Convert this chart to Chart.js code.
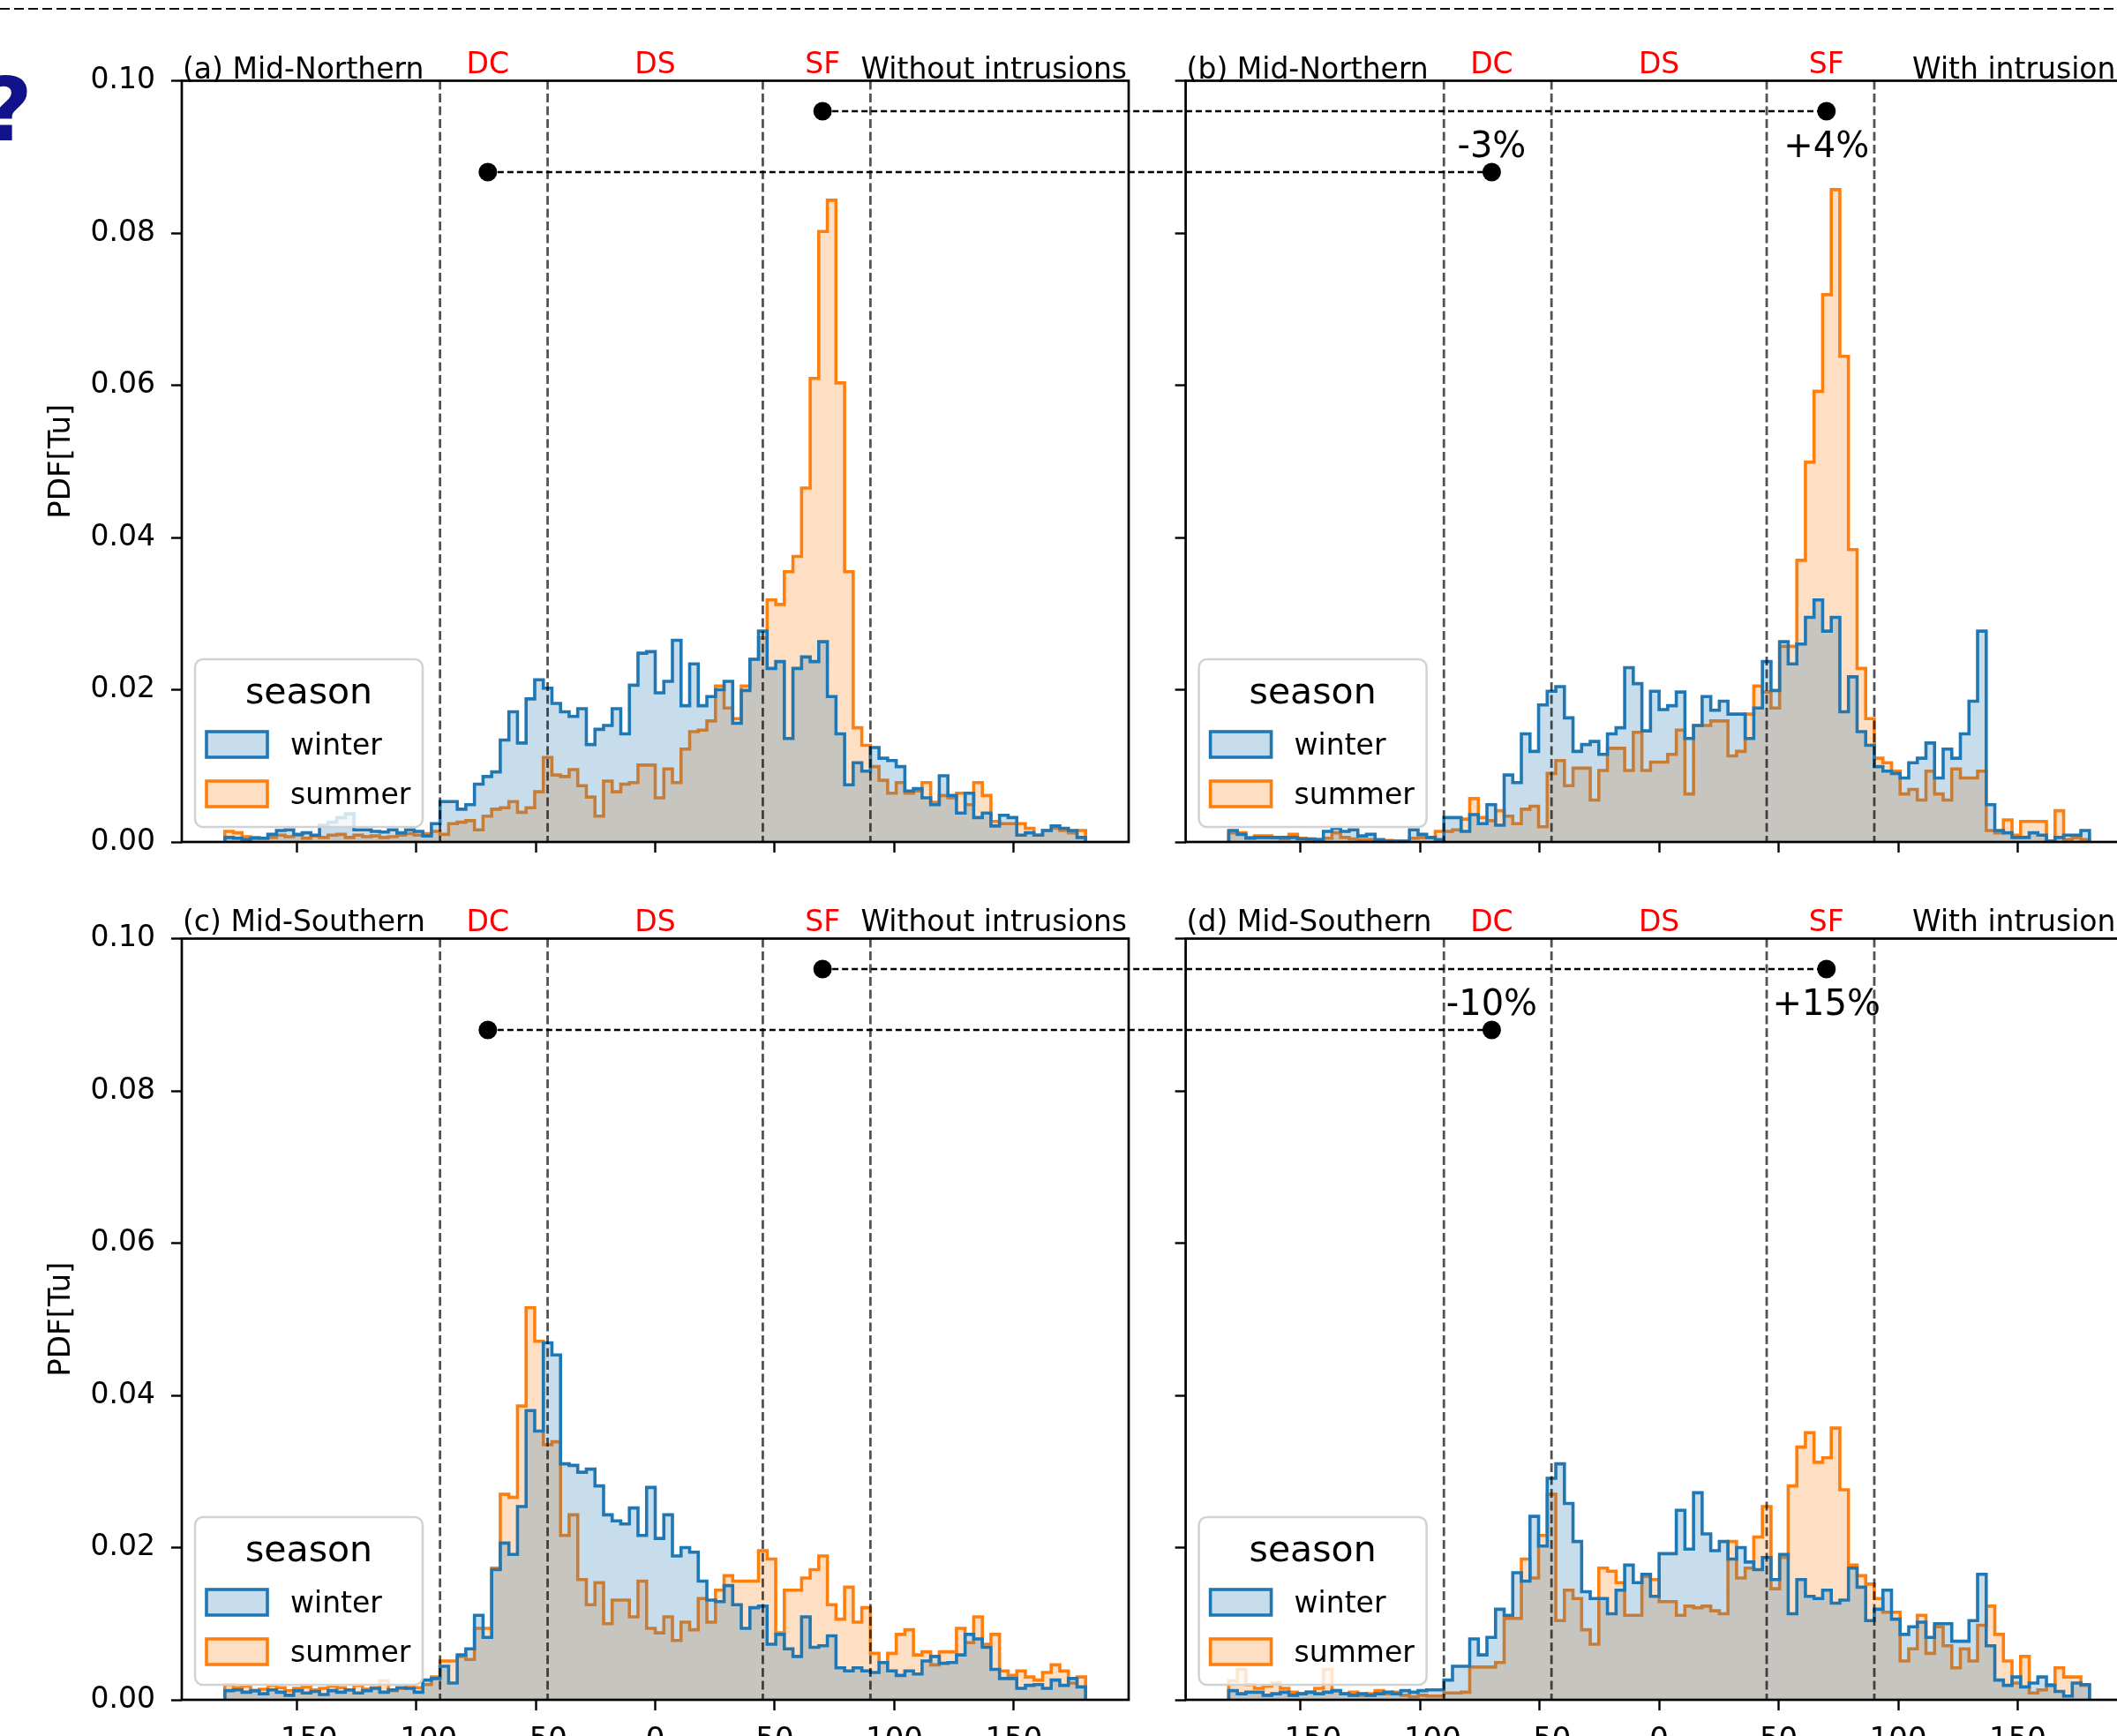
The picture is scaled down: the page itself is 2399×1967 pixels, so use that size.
<!DOCTYPE html>
<html>
<head>
<meta charset="utf-8">
<title>Turner angle PDFs by season</title>
<script src="https://cdn.jsdelivr.net/npm/chart.js@4.4.1/dist/chart.umd.min.js"></script>
<style>
  html, body { margin: 0; padding: 0; width: 2399px; height: 1967px; overflow: hidden; background: #fff; }
  .frame { position: absolute; }
  .frame canvas { display: block; }
  #rule { position: absolute; left: 0; top: 9px; width: 2399px; height: 2px;
          background: repeating-linear-gradient(to right, #111 0 11px, transparent 11px 16px); }
  #mark { position: absolute; left: -21px; top: 75px; font: bold 100px/100px "DejaVu Sans", sans-serif; color: #12128a; }
</style>
</head>
<body>
<div id="rule"></div>
<div id="mark">?</div>
<div class="frame" style="left:0;top:0"><canvas id="pa" width="1311" height="1010" style="width:1311px;height:1010px"></canvas></div>
<div class="frame" style="left:1311px;top:0"><canvas id="pb" width="1120" height="1010" style="width:1120px;height:1010px"></canvas></div>
<div class="frame" style="left:0;top:1010px"><canvas id="pc" width="1311" height="990" style="width:1311px;height:990px"></canvas></div>
<div class="frame" style="left:1311px;top:1010px"><canvas id="pd" width="1120" height="990" style="width:1120px;height:990px"></canvas></div>
<script>
// ---- Binning and axes ------------------------------------------------------
const BIN_LO = -180, BIN_HI = 180;          // Turner angle histogram range (deg), 100 bins
const X_MIN = -198, X_MAX = 198;
const Y_MIN = 0, Y_MAX = 0.10;
const X_TICKS = [-150, -100, -50, 0, 50, 100, 150];
const Y_TICKS = [0, 0.02, 0.04, 0.06, 0.08, 0.10];
const Y_TITLE = 'PDF[Tu]';
const PDF_UNIT = 1e-3;                       // bin values below are listed in units of 1e-3

// Regime boundaries and names
const REGIME_BOUNDS = [-90, -45, 45, 90];
const REGIME_NAMES = ['DC', 'DS', 'SF'];
const REGIME_CENTRES = [-70, 0, 70];

// Legend
const LEGEND_TITLE = 'season';
const SEASONS = ['winter', 'summer'];

// Links between the "without" and "with intrusions" panels
const LINK_X = [70, -70];
const LINK_Y = [0.096, 0.088];
const CHANGE_Y = 0.090;
const CHANGE_NORTH = ['+4%', '-3%'];
const CHANGE_SOUTH = ['+15%', '-10%'];

// ---- PDF per bin (x1e-3) ----------------------------------------------------
const winterA = [0.6,0.5,0.3,0.5,0.5,1.0,1.5,1.6,1.0,1.2,
  0.9,2.2,2.6,3.2,3.7,1.6,1.6,1.4,1.3,1.6,
  1.2,1.6,1.4,0.8,2.4,5.3,5.3,4.3,4.9,7.6,
  8.6,9.2,13.4,17.1,13.0,18.8,21.3,20.2,18.2,17.1,
  16.5,17.5,12.8,14.8,15.3,17.5,14.2,20.6,24.8,25.0,
  19.6,21.1,26.5,17.9,23.4,17.9,19.1,20.0,21.1,15.6,
  19.9,24.0,27.7,22.8,23.7,13.6,22.8,24.3,23.7,26.3,
  19.1,14.2,7.5,10.4,9.3,12.4,11.0,10.7,9.9,6.7,
  7.0,5.8,4.9,8.7,6.1,3.8,6.4,3.2,3.8,2.1,
  3.5,3.2,0.9,1.2,0.9,1.5,2.1,1.8,1.5,0.6];
const summerA = [1.4,1.2,0.7,0.6,0.5,0.6,0.9,0.7,0.9,0.5,
  0.8,0.6,0.9,1.0,0.6,0.9,0.7,0.8,0.6,0.7,
  0.9,1.1,0.9,1.1,1.4,1.0,2.4,2.6,2.8,1.6,
  3.4,4.3,4.5,5.3,3.9,4.5,6.6,11.1,8.8,8.6,
  9.5,7.4,5.9,3.4,8.0,6.6,7.6,7.8,10.1,10.1,
  5.8,9.6,7.8,12.2,14.5,14.7,15.9,20.5,17.6,16.2,
  20.5,24.0,26.8,31.8,31.2,35.5,37.5,46.5,60.9,80.2,
  84.3,60.3,35.5,15.0,12.7,9.9,8.1,6.4,7.8,6.4,
  6.7,7.8,5.2,6.1,5.8,6.4,4.9,7.8,6.1,2.7,
  2.4,2.4,2.4,1.8,0.9,1.5,1.8,1.5,1.2,1.5];
const winterB = [1.5,1.0,0.5,0.6,0.6,0.6,0.6,0.6,0.4,0.4,
  0.3,1.4,1.8,1.4,1.6,0.8,1.0,0.3,0.1,0.1,
  0.1,1.6,1.0,0.6,0.3,3.2,3.2,1.4,3.6,2.4,
  4.9,2.2,8.8,7.8,14.2,11.9,18.0,19.8,20.4,16.3,
  11.9,12.8,13.2,11.5,14.2,15.0,22.9,20.8,14.6,19.8,
  17.4,17.9,19.7,13.6,15.3,19.1,17.3,18.5,16.8,16.8,
  13.6,17.6,23.7,19.9,26.3,23.4,26.0,29.5,31.8,27.7,
  29.5,17.1,21.7,14.5,12.7,9.9,9.3,9.0,8.4,10.4,
  11.0,13.0,8.4,12.2,11.0,14.2,18.5,27.7,4.9,1.5,
  1.2,0.6,0.6,1.2,0.9,0.1,0.6,0.9,0.9,1.5];
const summerB = [1.2,1.2,0.6,0.8,0.8,0.6,0.4,1.0,0.5,0.3,
  0.3,0.5,1.2,0.6,0.4,0.3,0.3,0.2,0.2,0.1,
  0.1,0.5,0.6,0.6,1.4,1.4,1.6,3.0,5.7,3.2,
  2.8,4.1,3.4,2.4,4.3,4.7,2.0,9.0,10.7,7.4,
  9.7,9.7,5.5,9.4,12.3,12.3,9.4,14.4,9.4,10.5,
  10.5,11.5,14.7,6.3,15.3,15.3,15.9,15.9,11.3,11.9,
  16.8,20.5,19.7,17.6,25.7,25.7,37.0,49.9,59.2,71.9,
  85.7,63.8,38.4,22.8,16.2,11.0,10.4,9.3,6.3,6.9,
  5.5,9.3,6.3,5.5,9.6,8.4,8.4,9.3,1.5,1.2,
  2.9,0.9,2.7,2.7,2.7,0.1,4.1,0.3,0.6,0.3];
const winterC = [1.2,1.3,1.0,1.2,0.8,1.3,1.0,0.6,1.2,0.9,
  1.1,0.7,1.2,1.0,1.3,0.9,1.2,1.5,1.0,1.3,
  1.6,1.5,1.0,2.6,2.8,4.4,2.2,5.9,6.7,11.1,
  8.2,17.1,20.6,19.1,25.4,38.0,35.3,46.9,45.3,31.0,
  30.8,29.9,30.3,28.1,24.3,23.5,23.1,25.2,21.6,27.9,
  21.2,24.3,18.9,20.0,19.4,15.6,13.1,12.9,15.0,12.5,
  9.4,12.1,12.3,7.3,8.6,6.7,5.7,10.9,6.9,7.1,
  8.4,4.2,3.8,4.2,3.8,3.6,4.9,3.8,3.2,3.8,
  3.4,5.1,5.7,4.8,4.9,5.9,8.6,8.0,6.9,4.0,
  2.8,2.8,1.5,1.9,2.0,1.5,2.6,1.9,2.8,1.7];
const summerC = [2.0,1.6,1.8,1.2,1.4,1.9,1.6,1.2,1.5,1.7,
  1.3,1.5,1.8,1.6,1.3,1.9,1.4,1.6,2.5,1.2,
  1.5,1.9,1.6,2.0,3.0,5.1,5.1,5.7,5.3,9.4,
  9.4,17.3,27.0,26.6,38.6,51.5,47.1,33.5,33.9,21.6,
  24.3,15.8,12.5,15.4,10.0,13.1,13.1,10.9,15.6,9.4,
  8.8,10.9,7.8,10.2,9.2,13.3,10.2,14.4,16.3,15.6,
  15.6,15.6,19.6,18.5,8.8,14.4,14.4,16.0,17.1,18.9,
  12.5,10.6,14.8,10.2,12.1,6.1,4.9,6.1,8.6,9.2,
  5.9,6.3,4.6,6.3,6.3,9.4,7.5,10.9,7.3,8.6,
  3.8,3.2,3.8,3.0,2.6,3.6,4.6,3.8,2.2,3.0];
const winterD = [1.2,0.8,1.0,1.0,0.6,0.8,1.0,0.6,0.8,1.0,
  0.8,1.0,1.2,0.8,0.6,0.8,0.6,0.8,1.0,0.8,
  1.2,1.0,1.2,1.3,1.3,2.6,4.4,4.4,8.0,5.9,
  8.2,11.9,11.1,16.7,15.6,24.1,20.2,29.1,31.0,25.8,
  20.8,14.2,13.3,13.3,11.3,14.4,17.7,15.4,16.5,13.6,
  19.2,19.2,24.9,19.8,27.2,21.8,19.6,20.8,18.5,20.0,
  18.1,17.1,18.7,15.8,19.1,11.3,15.8,13.6,13.3,14.4,
  12.7,13.1,17.3,14.8,10.4,11.9,14.4,10.6,8.6,9.6,
  10.2,8.2,10.0,10.0,7.7,7.7,10.4,16.5,7.1,2.6,
  1.9,3.0,1.7,2.2,3.0,1.9,1.1,0.5,2.2,2.0];
const summerD = [2.5,4.0,2.0,1.5,1.8,2.2,1.5,1.0,0.8,1.0,
  1.5,4.0,1.2,0.8,1.0,0.6,0.8,1.2,0.8,1.0,
  0.6,0.4,0.6,0.5,0.5,0.9,0.9,1.0,4.3,4.3,
  4.3,4.9,10.7,10.7,18.5,16.0,21.6,27.0,10.4,14.4,
  13.3,9.2,7.3,17.3,16.9,15.4,11.1,11.1,16.2,15.8,
  12.9,12.9,11.1,12.3,12.1,12.3,11.7,11.3,20.8,16.0,
  17.3,21.4,25.4,14.6,18.7,28.1,33.2,35.1,31.2,31.8,
  35.7,27.6,17.7,16.3,15.2,13.3,11.5,11.5,5.1,6.7,
  11.1,6.1,9.6,7.1,4.2,6.7,5.1,9.8,12.3,8.6,
  5.1,2.2,5.7,0.9,1.3,2.0,4.2,3.0,3.0,1.9];

// ---- Styling ---------------------------------------------------------------
const FONT = '"DejaVu Sans", sans-serif';
Chart.defaults.font.family = FONT;
Chart.defaults.color = '#000';
const BLUE = '#1f77b4', ORANGE = '#ff7f0e';
const BLUE_FILL = 'rgba(31,119,180,0.25)', ORANGE_FILL = 'rgba(255,127,14,0.25)';

const PANELS = [
  { id: 'pa', title: '(a) Mid-Northern', tag: 'Without intrusions', winter: winterA, summer: summerA,
    role: 'source', yLabels: true, xLabels: false, yAxisW: 160, xAxisH: 40, headLift: 2.5,
    pad: { left: 46, top: 91.5, right: 32, bottom: 16 } },
  { id: 'pb', title: '(b) Mid-Northern', tag: 'With intrusions', winter: winterB, summer: summerB,
    role: 'target', change: CHANGE_NORTH, yLabels: false, xLabels: false, yAxisW: 20, xAxisH: 40, headLift: 2.5,
    pad: { left: 12.6, top: 91.5, right: 14.4, bottom: 16 } },
  { id: 'pc', title: '(c) Mid-Southern', tag: 'Without intrusions', winter: winterC, summer: summerC,
    role: 'source', yLabels: true, xLabels: true, yAxisW: 160, xAxisH: 60, headLift: 8.5,
    pad: { left: 46, top: 53.5, right: 32, bottom: 14 } },
  { id: 'pd', title: '(d) Mid-Southern', tag: 'With intrusions', winter: winterD, summer: summerD,
    role: 'target', change: CHANGE_SOUTH, yLabels: false, xLabels: true, yAxisW: 20, xAxisH: 60, headLift: 8.5,
    pad: { left: 12.6, top: 53.5, right: 14.4, bottom: 14 } }
];

// Step outline of a histogram: closed at zero on both ends
function stepOutline(values) {
  const w = (BIN_HI - BIN_LO) / values.length;
  const pts = [{ x: BIN_LO, y: 0 }];
  values.forEach((v, k) => pts.push({ x: BIN_LO + k * w, y: v * PDF_UNIT }));
  pts.push({ x: BIN_HI, y: 0 });
  return pts;
}

const fmtX = v => (v < 0 ? '\u2212' + Math.abs(v) : String(v));

function roundRectPath(ctx, x, y, w, h, r) {
  ctx.beginPath();
  ctx.moveTo(x + r, y);
  ctx.lineTo(x + w - r, y); ctx.arcTo(x + w, y, x + w, y + r, r);
  ctx.lineTo(x + w, y + h - r); ctx.arcTo(x + w, y + h, x + w - r, y + h, r);
  ctx.lineTo(x + r, y + h); ctx.arcTo(x, y + h, x, y + h - r, r);
  ctx.lineTo(x, y + r); ctx.arcTo(x, y, x + r, y, r);
  ctx.closePath();
}

function drawLegend(chart, a) {
  const ctx = chart.ctx;
  const bw = 258, bh = 190;
  const bx = a.left + 15, by = a.bottom - 17 - bh;
  roundRectPath(ctx, bx, by, bw, bh, 9);
  ctx.fillStyle = 'rgba(255,255,255,0.8)';
  ctx.fill();
  ctx.strokeStyle = '#d2d2d2';
  ctx.lineWidth = 2.5;
  ctx.stroke();
  ctx.fillStyle = '#000';
  ctx.font = `41px ${FONT}`;
  ctx.textAlign = 'center';
  ctx.textBaseline = 'alphabetic';
  ctx.fillText(LEGEND_TITLE, bx + bw / 2, by + 50);
  chart.data.datasets.forEach((ds, i) => {
    const py = by + 82 + i * 56;
    ctx.fillStyle = '#fff';
    ctx.fillRect(bx + 13, py, 69, 29);
    ctx.fillStyle = ds.backgroundColor;
    ctx.fillRect(bx + 13, py, 69, 29);
    ctx.strokeStyle = ds.borderColor;
    ctx.lineWidth = 3.6;
    ctx.strokeRect(bx + 13, py, 69, 29);
    ctx.fillStyle = '#000';
    ctx.font = `33px ${FONT}`;
    ctx.textAlign = 'left';
    ctx.fillText(ds.label, bx + 108, py + 26);
  });
}

function makeDecor(p) {
  return {
    id: 'decor',
    afterDatasetsDraw(chart) {
      const { ctx, chartArea: a, scales: { x, y } } = chart;
      ctx.save();

      // regime boundaries
      ctx.save();
      ctx.beginPath();
      ctx.rect(a.left, a.top, a.right - a.left, a.bottom - a.top);
      ctx.clip();
      ctx.strokeStyle = 'rgba(0,0,0,0.68)';
      ctx.lineWidth = 2.8;
      ctx.setLineDash([10, 4.5]);
      REGIME_BOUNDS.forEach(b => {
        const px = x.getPixelForValue(b);
        ctx.beginPath(); ctx.moveTo(px, a.top); ctx.lineTo(px, a.bottom); ctx.stroke();
      });
      ctx.restore();

      // axes frame
      ctx.setLineDash([]);
      ctx.strokeStyle = '#000';
      ctx.lineWidth = 2.7;
      ctx.strokeRect(a.left, a.top, a.right - a.left, a.bottom - a.top);

      drawLegend(chart, a);

      // panel headings
      ctx.fillStyle = '#000';
      ctx.font = `33px ${FONT}`;
      ctx.textBaseline = 'alphabetic';
      ctx.textAlign = 'left';
      ctx.fillText(p.title, a.left + 1, a.top - p.headLift);
      ctx.textAlign = 'right';
      ctx.fillText(p.tag, a.right - 2, a.top - p.headLift);
      ctx.fillStyle = '#ff0000';
      ctx.textAlign = 'center';
      REGIME_NAMES.forEach((n, i) => ctx.fillText(n, x.getPixelForValue(REGIME_CENTRES[i]), a.top - 9));

      // dashed links across to the neighbouring panel
      ctx.strokeStyle = '#000';
      ctx.lineWidth = 2.6;
      ctx.setLineDash([7, 4]);
      LINK_X.forEach((lx, i) => {
        const px = x.getPixelForValue(lx), py = y.getPixelForValue(LINK_Y[i]);
        ctx.beginPath();
        if (p.role === 'source') { ctx.moveTo(px, py); ctx.lineTo(chart.width, py); }
        else { ctx.moveTo(0, py); ctx.lineTo(px, py); }
        ctx.stroke();
      });
      ctx.setLineDash([]);
      ctx.fillStyle = '#000';
      LINK_X.forEach((lx, i) => {
        ctx.beginPath();
        ctx.arc(x.getPixelForValue(lx), y.getPixelForValue(LINK_Y[i]), 10.5, 0, 2 * Math.PI);
        ctx.fill();
      });
      if (p.change) {
        ctx.font = `40px ${FONT}`;
        ctx.textAlign = 'center';
        p.change.forEach((t, i) => ctx.fillText(t, x.getPixelForValue(LINK_X[i]), y.getPixelForValue(CHANGE_Y)));
      }
      ctx.restore();
    }
  };
}

function makePanel(p) {
  const datasets = [
    { label: SEASONS[0], data: stepOutline(p.winter), borderColor: BLUE, backgroundColor: BLUE_FILL },
    { label: SEASONS[1], data: stepOutline(p.summer), borderColor: ORANGE, backgroundColor: ORANGE_FILL }
  ].map(d => Object.assign(d, { stepped: 'before', fill: 'origin', borderWidth: 3.6, pointRadius: 0, tension: 0 }));

  const tickGrid = { display: true, drawOnChartArea: false, drawTicks: true, tickLength: 12, tickWidth: 2.4, tickColor: '#000' };

  new Chart(document.getElementById(p.id), {
    type: 'line',
    data: { datasets },
    options: {
      responsive: false,
      animation: false,
      devicePixelRatio: 1,
      events: [],
      layout: { autoPadding: false, padding: p.pad },
      plugins: { legend: { display: false }, tooltip: { enabled: false }, title: { display: false } },
      scales: {
        x: {
          type: 'linear', min: X_MIN, max: X_MAX,
          afterBuildTicks: s => { s.ticks = X_TICKS.map(v => ({ value: v })); },
          afterFit: s => { s.height = p.xAxisH; },
          grid: tickGrid,
          border: { display: false },
          ticks: { padding: 14, font: { size: 34 }, color: '#000', autoSkip: false, maxRotation: 0,
                   callback: v => (p.xLabels ? fmtX(v) : '') }
        },
        y: {
          type: 'linear', min: Y_MIN, max: Y_MAX,
          afterBuildTicks: s => { s.ticks = Y_TICKS.map(v => ({ value: v })); },
          afterFit: s => { s.width = p.yAxisW; },
          grid: tickGrid,
          border: { display: false },
          ticks: { padding: 18, font: { size: 33 }, color: '#000',
                   callback: v => (p.yLabels ? v.toFixed(2) : '') },
          title: { display: p.yLabels, text: Y_TITLE, font: { size: 34 }, color: '#000', padding: { top: 4, bottom: 4 } }
        }
      }
    },
    plugins: [makeDecor(p)]
  });
}

PANELS.forEach(makePanel);
</script>
</body>
</html>
